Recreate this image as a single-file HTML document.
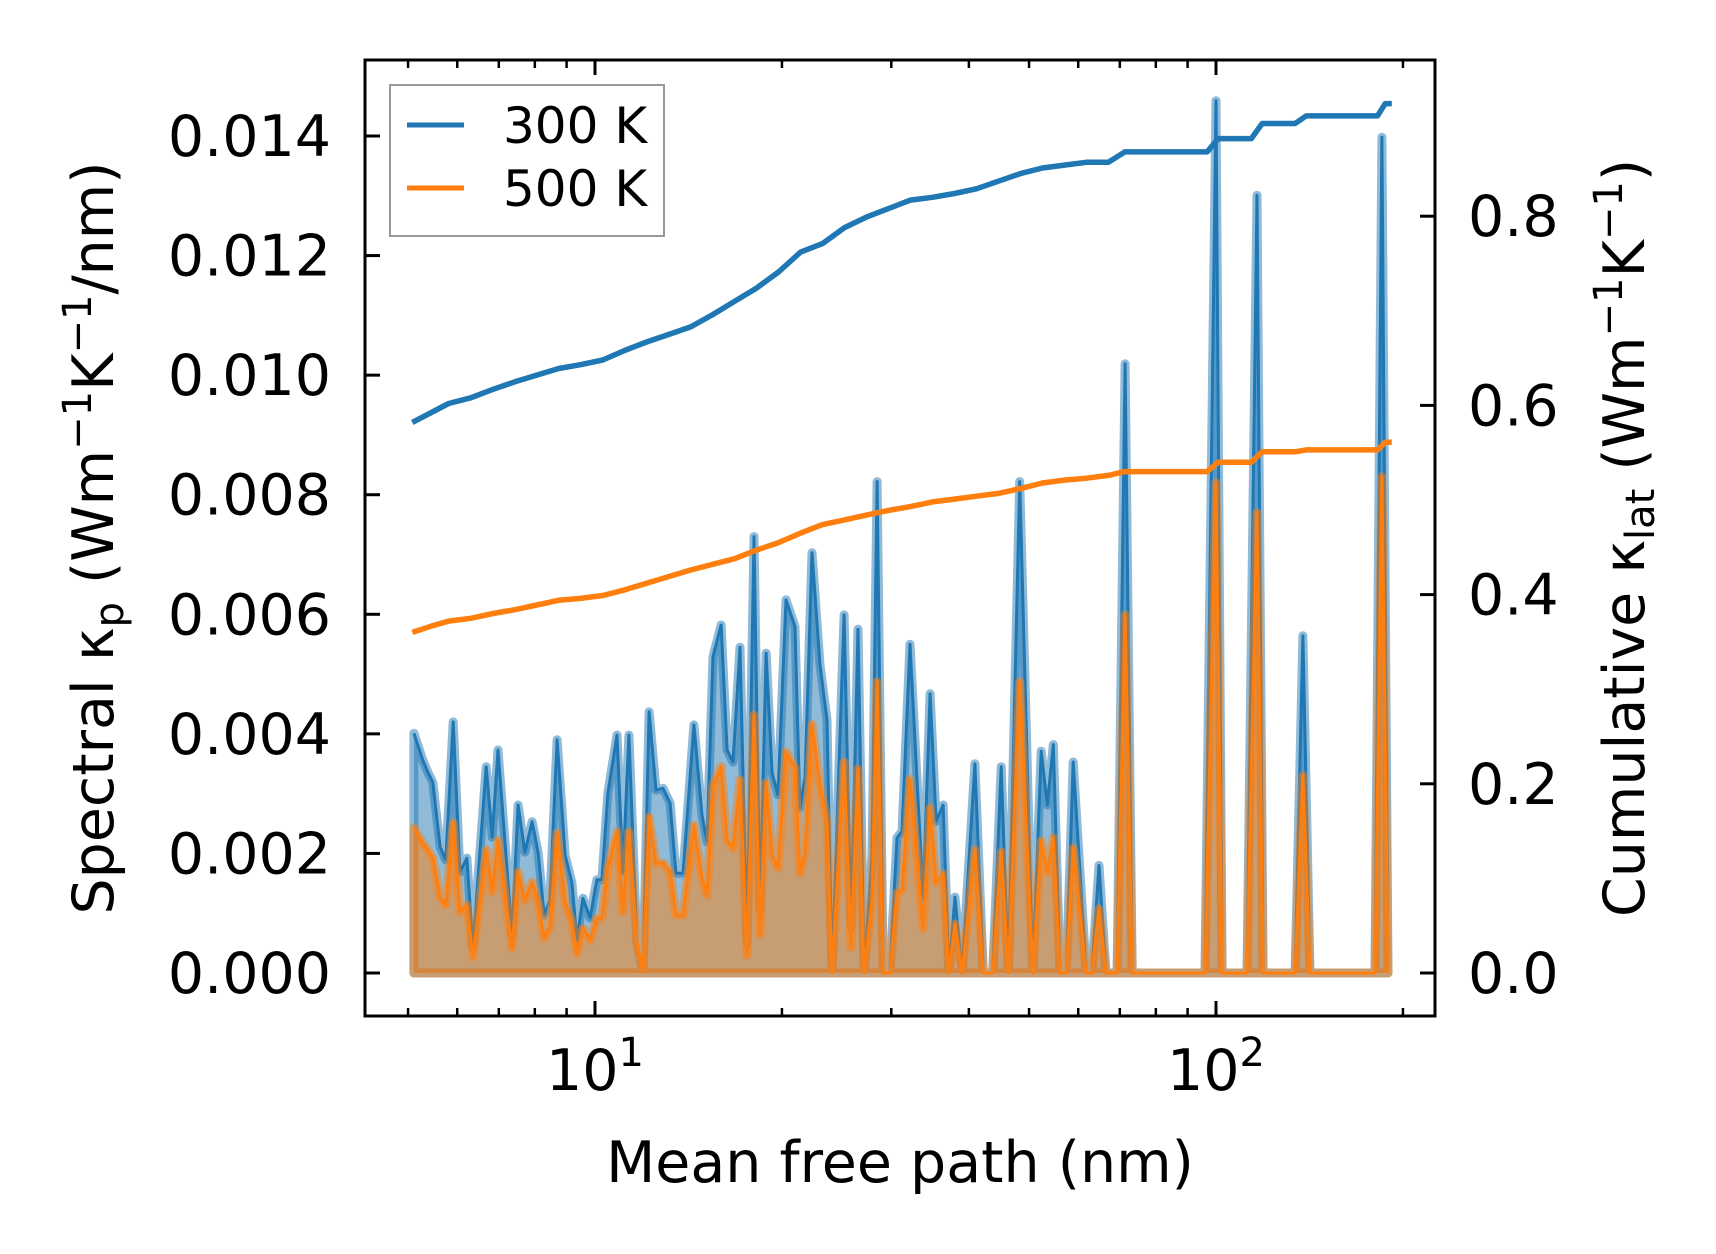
<!DOCTYPE html>
<html><head><meta charset="utf-8"><style>
html,body{margin:0;padding:0;background:#fff;}
svg{display:block;font-family:"DejaVu Sans","Liberation Sans",sans-serif;}
</style></head><body>
<svg id="chart" width="1716" height="1254" viewBox="0 0 1716 1254" xmlns="http://www.w3.org/2000/svg">
<rect x="0" y="0" width="1716" height="1254" fill="#fff"/>
<g id="spec"></g>
<g id="cum"></g>
<g id="axes"></g>
<rect x="365" y="60" width="1070" height="956" fill="none" stroke="#000" stroke-width="3"/>
<text x="900" y="1182" font-size="57" text-anchor="middle">Mean free path (nm)</text>
<text transform="translate(113,538) rotate(-90)" font-size="57" text-anchor="middle">Spectral κ<tspan font-size="40" dy="10">p</tspan><tspan dy="-10"> (Wm</tspan><tspan font-size="40" dy="-22">−1</tspan><tspan dy="22">K</tspan><tspan font-size="40" dy="-22">−1</tspan><tspan dy="22">/nm)</tspan></text>
<text transform="translate(1644,538) rotate(-90)" font-size="57" text-anchor="middle">Cumulative κ<tspan font-size="40" dy="10">lat</tspan><tspan dy="-10"> (Wm</tspan><tspan font-size="40" dy="-22">−1</tspan><tspan dy="22">K</tspan><tspan font-size="40" dy="-22">−1</tspan><tspan dy="22">)</tspan></text>
<g>
<rect x="390" y="85" width="274" height="151" fill="#fff" fill-opacity="0.8" stroke="#999" stroke-width="2"/>
<line x1="407" y1="125" x2="464" y2="125" stroke="#1f77b4" stroke-width="5"/>
<text x="503" y="143" font-size="50">300 K</text>
<line x1="407" y1="188" x2="464" y2="188" stroke="#ff7f0e" stroke-width="5"/>
<text x="503" y="206" font-size="50">500 K</text>
</g>
</svg>
<script>
const mfpSpec = [5.11,5.28,5.38,5.48,5.63,5.75,5.91,6.06,6.22,6.36,6.68,6.83,6.98,7.35,7.52,7.71,7.92,8.10,8.28,8.46,8.69,8.95,9.18,9.35,9.56,9.82,10.07,10.26,10.49,10.85,11.09,11.34,11.68,11.95,12.22,12.54,12.87,13.21,13.50,13.86,14.43,14.87,15.15,15.49,15.96,16.32,16.68,17.12,17.57,18.03,18.44,18.86,19.28,19.71,20.30,20.99,21.38,21.79,22.36,23.03,23.64,24.08,25.18,25.84,26.52,27.12,27.93,28.46,29.10,29.85,30.64,31.22,32.16,33.75,34.64,35.42,36.35,37.15,38.0,39.0,40.9,42.2,43.7,45.1,46.3,48.3,50.7,52.3,53.5,54.7,56.1,57.4,58.9,61.8,63.1,64.8,66.5,69.3,71.4,73.3,96.0,100,102.3,112.2,116.4,119.1,134.1,138.0,141.7,180.3,185.0,189.2];
const spec300 = [.00401,.00356,.00336,.00319,.00211,.00189,.0042,.00169,.00192,.00043,.00345,.00227,.00373,.00064,.00281,.00202,.00253,.00201,.00097,.00122,.0039,.00197,.00151,.00055,.00125,.00092,.00156,.00156,.00301,.00398,.00169,.00398,.0005,.00002,.00437,.00306,.00309,.00284,.00167,.00167,.00415,.00264,.00219,.00529,.00582,.00373,.00353,.00545,.0005,.0073,.00105,.00535,.00334,.00298,.00624,.00579,.00276,.00328,.00703,.00515,.00423,0,.00599,.00077,.00575,0,.00197,.00822,0,0,.00226,.00237,.0055,.00127,.00467,.00254,.00281,0,.00127,0,.0035,0,0,.00345,0,.00822,0,.00371,.00281,.00382,0,0,.00353,0,0,.0018,0,0,.01019,0,0,.01459,0,0,.01301,0,0,.00564,0,0,.01398,0];
const spec500 = [.00243,.00217,.00206,.00192,.00127,.00114,.00251,.00102,.00114,.00027,.00206,.00136,.00222,.00042,.00169,.00122,.00152,.00117,.00059,.00077,.00234,.00119,.00085,.00033,.00075,.00055,.00092,.00092,.00177,.00236,.00102,.00236,.0005,.00002,.00261,.00184,.00184,.00169,.00097,.00097,.00247,.00159,.0013,.00314,.00345,.00222,.00209,.00323,.0003,.00431,.00064,.00318,.00197,.00176,.0037,.00343,.00167,.00201,.00416,.00313,.00254,0,.00353,.00043,.00341,0,.0012,.00487,0,0,.00134,.00139,.00324,.00075,.00276,.00151,.00166,0,.00082,0,.00206,0,0,.00202,0,.00487,0,.00221,.00169,.00226,0,0,.00209,0,0,.00107,0,0,.00599,0,0,.0082,0,0,.0077,0,0,.0033,0,0,.0083,0];
const mfpCum = [5.08,5.47,5.81,6.31,6.85,7.43,8.06,8.74,9.48,10.29,11.16,12.11,13.14,14.26,15.47,16.78,18.20,19.75,21.43,23.25,25.22,27.36,29.69,32.21,34.94,37.91,41.13,44.63,48.42,52.53,56.99,61.83,67.08,71.3,96.8,100.8,114.0,118.7,134.1,139.7,182.0,187.3,191.9];
const cum300 = [.582,.593,.602,.608,.617,.625,.632,.639,.643,.648,.658,.667,.675,.683,.696,.710,.724,.741,.762,.771,.788,.799,.808,.817,.820,.824,.829,.837,.845,.851,.854,.857,.857,.868,.868,.882,.882,.898,.898,.906,.906,.919,.919];
const cum500 = [.360,.367,.372,.375,.380,.384,.389,.394,.396,.399,.405,.412,.419,.426,.432,.438,.447,.455,.465,.474,.479,.484,.489,.493,.498,.501,.504,.507,.512,.518,.521,.523,.526,.530,.530,.540,.540,.551,.551,.553,.553,.561,.561];
const leftTicks = [0,0.002,0.004,0.006,0.008,0.010,0.012,0.014];
const leftTickLabels = ["0.000","0.002","0.004","0.006","0.008","0.010","0.012","0.014"];
const rightTicks = [0,0.2,0.4,0.6,0.8];
const rightTickLabels = ["0.0","0.2","0.4","0.6","0.8"];
const xMajor = [10,100];
const xMajorExp = ["1","2"];
const xMinor = [5,6,7,8,9,20,30,40,50,60,70,80,90,200];

const NS = "http://www.w3.org/2000/svg";
const X0 = 595, DEC = 621, FT = 60, FB = 1016, FL = 365, FR = 1435;
function xs(v){ return X0 + (Math.log10(v) - 1) * DEC; }
function yl(v){ return 973 - v / 0.014 * 837; }
function yr(v){ return 973 - v / 0.2 * 189.2; }
function mk(tag, attrs, parent){
  const e = document.createElementNS(NS, tag);
  for (const k in attrs) e.setAttribute(k, attrs[k]);
  parent.appendChild(e);
  return e;
}
const spec = document.getElementById('spec');
const cum = document.getElementById('cum');
const axes = document.getElementById('axes');

function drawSpec(vals, color, key){
  let line = "";
  mfpSpec.forEach((m, i) => { line += (i ? "L" : "M") + xs(m).toFixed(1) + "," + yl(vals[i]).toFixed(1); });
  const fillD = line + "L" + xs(mfpSpec[mfpSpec.length-1]).toFixed(1) + "," + yl(0) + "L" + xs(mfpSpec[0]).toFixed(1) + "," + yl(0) + "Z";
  const f = mk('path', {d: fillD, fill: color, 'fill-opacity': 0.5, stroke: color, 'stroke-opacity': 0.5, 'stroke-width': 9, 'stroke-linejoin': 'round'}, spec);
  
  
  const l = mk('path', {d: line, fill: 'none', stroke: color, 'stroke-width': 3, 'stroke-linejoin': 'round'}, spec);
  
  
}
drawSpec(spec300, '#1f77b4', '300k');
drawSpec(spec500, '#ff7f0e', '500k');

function drawCum(vals, color, key){
  let d = "";
  mfpCum.forEach((m, i) => { d += (i ? "L" : "M") + xs(m).toFixed(1) + "," + yr(vals[i]).toFixed(1); });
  const p = mk('path', {d: d, fill: 'none', stroke: color, 'stroke-width': 5.5, 'stroke-linejoin': 'round'}, cum);
  
  
}
drawCum(cum300, '#1f77b4', '300k');
drawCum(cum500, '#ff7f0e', '500k');

leftTicks.forEach((v, i) => {
  const y = yl(v);
  const t = mk('line', {x1: FL, x2: FL + 15, y1: y, y2: y, stroke: '#000', 'stroke-width': 3}, axes);
  
  
  const tx = mk('text', {x: 331, y: y + 20, 'font-size': 57, 'text-anchor': 'end'}, axes);
  tx.textContent = leftTickLabels[i];
  
  
});
rightTicks.forEach((v, i) => {
  const y = yr(v);
  const t = mk('line', {x1: FR - 15, x2: FR, y1: y, y2: y, stroke: '#000', 'stroke-width': 3}, axes);
  
  
  const tx = mk('text', {x: 1468, y: y + 20, 'font-size': 57}, axes);
  tx.textContent = rightTickLabels[i];
  
  
});
xMajor.forEach((v, i) => {
  const x = xs(v);
  [[FB, FB - 15], [FT, FT + 15]].forEach(p => {
    const t = mk('line', {x1: x, x2: x, y1: p[0], y2: p[1], stroke: '#000', 'stroke-width': 3}, axes);
    
    
  });
  const tx = mk('text', {x: x, y: 1090, 'font-size': 57, 'text-anchor': 'middle'}, axes);
  tx.textContent = "10";
  const sup = mk('tspan', {'font-size': 40, dy: -24}, tx);
  sup.textContent = xMajorExp[i];
  
  
});
xMinor.forEach(v => {
  const x = xs(v);
  [[FB, FB - 8], [FT, FT + 8]].forEach(p => {
    const t = mk('line', {x1: x, x2: x, y1: p[0], y2: p[1], stroke: '#000', 'stroke-width': 2.5}, axes);
    
    
  });
});
</script>
</body></html>
